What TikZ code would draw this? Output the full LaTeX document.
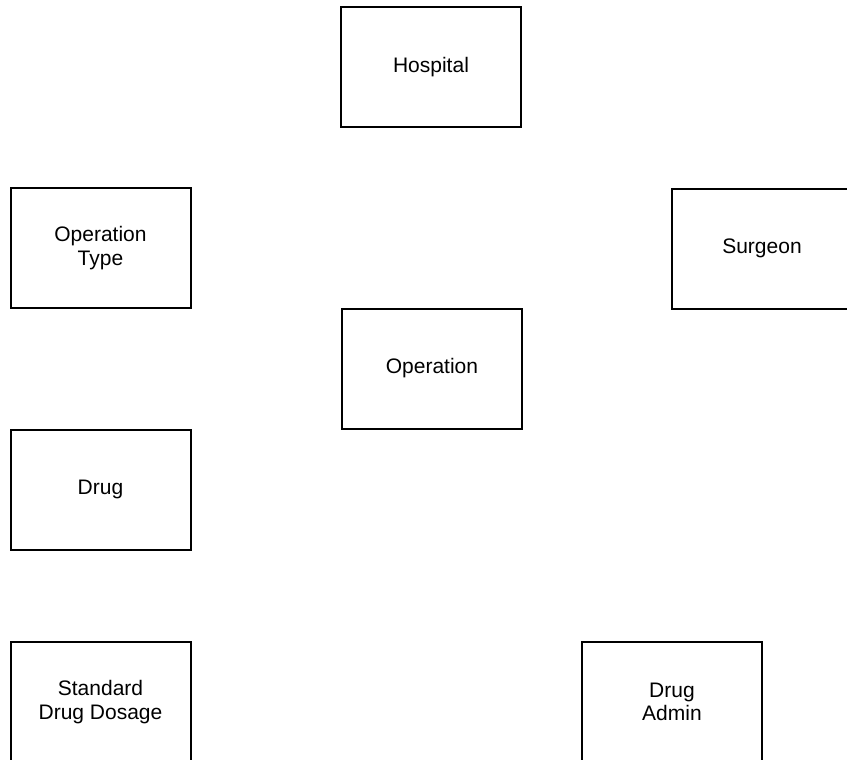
\documentclass[tikz,border=0pt]{standalone}
\usepackage{fontspec}
\setmainfont{Liberation Sans}
\begin{document}
\begin{tikzpicture}[x=1pt,y=-1pt,
  entity/.style={draw=black, line width=2pt, fill=white,
    minimum width=180pt, minimum height=120pt, inner sep=0pt,
    align=center, font=\fontsize{21}{23.5}\selectfont}]
\useasboundingbox (0,0) rectangle (847,760);
\clip (0,0) rectangle (847,760);
\node[entity] (hospital) at (431,67.5)  {Hospital};
\node[entity] (optype)   at (100.5,248) {Operation\\Type};
\node[entity] (surgeon)  at (762,248.5) {Surgeon};
\node[entity] (operation) at (432,368.5) {Operation};
\node[entity] (drug)     at (100.5,489.5) {Drug};
\node[entity] (dosage)   at (100.5,702) {Standard\\Drug Dosage};
\node[entity] (admin)    at (672,702)   {Drug\\Admin};
\end{tikzpicture}
\end{document}
